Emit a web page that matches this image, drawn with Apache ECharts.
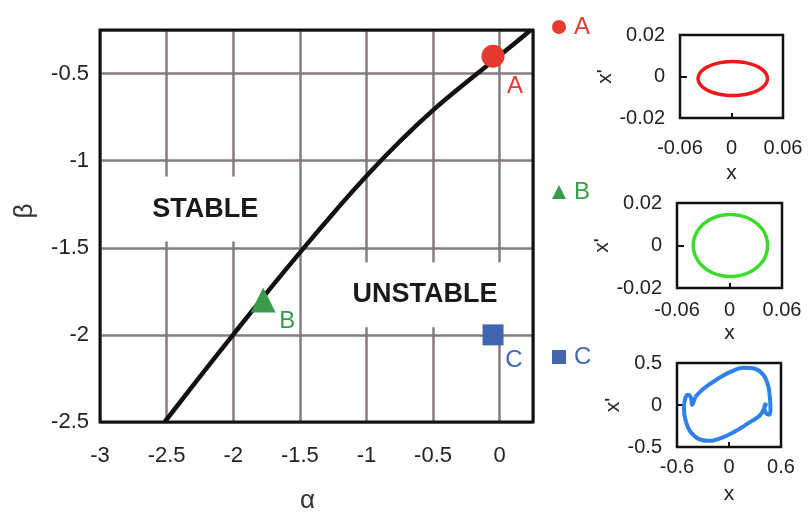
<!DOCTYPE html>
<html><head><meta charset="utf-8">
<script src="https://cdn.jsdelivr.net/npm/echarts@6/dist/echarts.min.js"></script>
<style>html,body{margin:0;padding:0;background:#fff}#c{width:812px;height:519px}</style>
</head><body><div id="c"></div>
<script>
// ---- data ----
const curveAlpha = [-2.515, -2.25, -2.0, -1.75, -1.5, -1.25, -1.0, -0.75, -0.5, -0.25, 0.0, 0.234];
const curveBeta  = [-2.5, -2.24, -1.998, -1.76, -1.528, -1.303, -1.088, -0.89, -0.71, -0.55, -0.397, -0.25];
const pointNames = ['A', 'B', 'C'];
const pointAlpha = [-0.05, -1.775, -0.05];
const pointBeta  = [-0.4, -1.8, -2.0];
const regionNames = ['STABLE', 'UNSTABLE'];
const regionAlpha = [-2.21, -0.56];
const regionBeta  = [-1.278, -1.77];
const orbitA = [[0.042,-0.001],[0.0406,0.0011],[0.0366,0.0031],[0.0301,0.0048],[0.0218,0.0061],[0.012,0.0069],[0.0015,0.0072],[-0.009,0.0069],[-0.0188,0.0061],[-0.0271,0.0048],[-0.0336,0.0031],[-0.0376,0.0011],[-0.039,-0.001],[-0.0376,-0.0031],[-0.0336,-0.0051],[-0.0271,-0.0068],[-0.0188,-0.0081],[-0.009,-0.0089],[0.0015,-0.0092],[0.012,-0.0089],[0.0218,-0.0081],[0.0301,-0.0068],[0.0366,-0.0051],[0.0406,-0.0031],[0.042,-0.001]];
const orbitB = [[0.0435,0.0003],[0.042,0.0041],[0.0378,0.0075],[0.031,0.0104],[0.0222,0.0127],[0.012,0.0141],[0.001,0.0146],[-0.010,0.0141],[-0.020,0.0127],[-0.029,0.0104],[-0.0358,0.0073],[-0.040,0.0038],[-0.0415,0.0],[-0.040,-0.0038],[-0.0358,-0.0073],[-0.029,-0.0104],[-0.020,-0.0127],[-0.010,-0.0141],[0.001,-0.0146],[0.012,-0.0141],[0.0222,-0.0127],[0.031,-0.0104],[0.0378,-0.0075],[0.042,-0.0041],[0.0435,0.0003]];
const orbitC = [[-0.391,0.093],[-0.295,0.193],[-0.142,0.304],[0.011,0.391],[0.165,0.442],[0.299,0.431],[0.395,0.359],[0.452,0.232],[0.471,0.093],[0.479,-0.046],[0.464,-0.117],[0.425,-0.093],[0.406,-0.026],[0.429,0.022],[0.41,-0.03],[0.356,-0.125],[0.241,-0.204],[0.088,-0.304],[-0.065,-0.383],[-0.218,-0.427],[-0.352,-0.403],[-0.448,-0.315],[-0.5,-0.185],[-0.52,-0.046],[-0.508,0.065],[-0.479,0.121],[-0.441,0.093],[-0.425,0.002],[-0.40,0.06],[-0.391,0.093]];
const xTicksMain = {min: -3, max: 0.25, interval: 0.5};
const yTicksMain = {min: -2.5, max: -0.25, interval: 0.5};

// ---- style ----
const FONT = '"Liberation Sans", Arial, sans-serif';
const pointColors = ['#e53a2f', '#3b9b4a', '#4266ad'];
const pointSymbols = ['circle', 'triangle', 'rect'];
const pointSizes = [23, 25, 21];
const labelOffsets = [[22, 30], [24, 21], [21, 25]];
const orbitColors = ['#f01818', '#3ddc2b', '#2f80ea'];

const chart = echarts.init(document.getElementById('c'), null, {renderer: 'canvas'});

const grids = [
  {left: 100, top: 30, right: 279, bottom: 96, show: true, borderColor: '#111', borderWidth: 3, z: 5},
  {left: 680, top: 35, width: 103, height: 83, show: true, borderColor: '#111', borderWidth: 2.5},
  {left: 677, top: 203, width: 105, height: 85, show: true, borderColor: '#111', borderWidth: 2.5},
  {left: 677, top: 363, width: 104, height: 84, show: true, borderColor: '#111', borderWidth: 2.5}
];

const smallSpecs = [
  {x: [-0.06, 0.06, 0.06], y: [-0.02, 0.02, 0.02], xm: 20, xg: 45, yg: 38},
  {x: [-0.06, 0.06, 0.06], y: [-0.02, 0.02, 0.02], xm: 12, xg: 35, yg: 36},
  {x: [-0.6, 0.6, 0.6], y: [-0.5, 0.5, 0.5], xm: 10, xg: 37, yg: 36}
];

const xAxes = [{
  gridIndex: 0, type: 'value', min: xTicksMain.min, max: xTicksMain.max, interval: xTicksMain.interval,
  axisLine: {show: false, onZero: false}, axisTick: {show: false},
  splitLine: {show: true, lineStyle: {color: '#857c7d', width: 2.5}},
  axisLabel: {fontSize: 22, color: '#222', fontFamily: FONT, margin: 23, showMaxLabel: false},
  name: 'α', nameLocation: 'middle', nameGap: 66,
  nameTextStyle: {fontSize: 26, color: '#333', fontFamily: FONT, padding: [0, 18, 0, 0]}
}];
const yAxes = [{
  gridIndex: 0, type: 'value', min: yTicksMain.min, max: yTicksMain.max, interval: yTicksMain.interval,
  axisLine: {show: false, onZero: false}, axisTick: {show: false},
  splitLine: {show: true, lineStyle: {color: '#857c7d', width: 2.5}},
  axisLabel: {fontSize: 22, color: '#222', fontFamily: FONT, margin: 11, showMaxLabel: false},
  name: 'β', nameLocation: 'middle', nameGap: 62,
  nameTextStyle: {fontSize: 26, color: '#333', fontFamily: FONT, padding: [0, 0, 0, 30]}
}];
smallSpecs.forEach((s, i) => {
  xAxes.push({
    gridIndex: i + 1, type: 'value', min: s.x[0], max: s.x[1], interval: s.x[2],
    axisLine: {show: false, onZero: false}, splitLine: {show: false},
    axisTick: {show: true, inside: true, length: 5, lineStyle: {color: '#111', width: 2}},
    axisLabel: {fontSize: 20, color: '#222', fontFamily: FONT, margin: s.xm},
    name: 'x', nameLocation: 'middle', nameGap: s.xg,
    nameTextStyle: {fontSize: 21, color: '#222', fontFamily: FONT}
  });
  yAxes.push({
    gridIndex: i + 1, type: 'value', min: s.y[0], max: s.y[1], interval: s.y[2],
    axisLine: {show: false, onZero: false}, splitLine: {show: false},
    axisTick: {show: true, inside: true, length: 7, lineStyle: {color: '#111', width: 2}},
    axisLabel: {fontSize: 20, color: '#222', fontFamily: FONT, margin: 15},
    name: "x'", nameLocation: 'middle', nameGap: s.yg,
    nameTextStyle: {fontSize: 21, color: '#222', fontFamily: FONT}
  });
});

const series = [];
series.push({
  name: 'boundary', type: 'line', xAxisIndex: 0, yAxisIndex: 0,
  data: curveAlpha.map((a, i) => [a, curveBeta[i]]),
  smooth: 0.5, showSymbol: false, symbol: 'none',
  lineStyle: {color: '#111', width: 4.5}, z: 3, silent: true
});
series.push({
  name: 'regions', type: 'scatter', xAxisIndex: 0, yAxisIndex: 0, symbolSize: 0,
  itemStyle: {opacity: 1},
  data: regionNames.map((n, i) => ({value: [regionAlpha[i], regionBeta[i]], name: n})),
  label: {show: true, position: 'inside', formatter: p => p.name, fontSize: 27, fontWeight: 'bold',
    color: '#1a1a1a', fontFamily: FONT, backgroundColor: '#fff', padding: [19, 6]},
  z: 2, silent: true
});
pointNames.forEach((n, i) => {
  series.push({
    name: n, type: 'scatter', xAxisIndex: 0, yAxisIndex: 0,
    symbol: pointSymbols[i], symbolSize: pointSizes[i],
    itemStyle: {color: pointColors[i], opacity: 1},
    data: [[pointAlpha[i], pointBeta[i]]],
    label: {show: true, position: 'inside', offset: labelOffsets[i], formatter: n,
      fontSize: 24, color: pointColors[i], fontFamily: FONT},
    z: 4
  });
});
[orbitA, orbitB, orbitC].forEach((o, i) => {
  series.push({
    name: 'orbit' + i, type: 'line', xAxisIndex: i + 1, yAxisIndex: i + 1,
    data: o, smooth: i === 2 ? 0.35 : 0.5, showSymbol: false, symbol: 'none',
    lineStyle: {color: orbitColors[i], width: i === 2 ? 4 : 3.5}, silent: true
  });
});

chart.setOption({
  animation: false,
  backgroundColor: '#fff',
  grid: grids,
  xAxis: xAxes,
  yAxis: yAxes,
  legend: {
    orient: 'vertical', left: 547, top: 10, itemGap: 141, itemWidth: 14, itemHeight: 14,
    selectedMode: false,
    textStyle: {fontSize: 24, fontFamily: FONT, padding: [0, 0, 0, 3]},
    data: pointNames.map((n, i) => ({name: n, textStyle: {color: pointColors[i]}, itemStyle: {opacity: 1}}))
  },
  series: series
});
</script></body></html>
